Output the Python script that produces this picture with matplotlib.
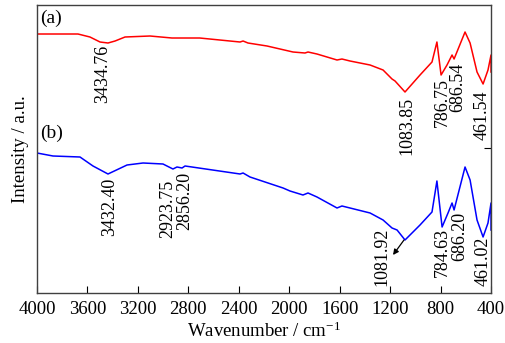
import numpy as np
import matplotlib.pyplot as plt

plt.rcParams.update({
    "font.family": "serif",
    "font.serif": ["Liberation Serif", "DejaVu Serif"],
    "font.size": 13,
    "mathtext.fontset": "custom",
    "mathtext.rm": "Liberation Serif",
    "mathtext.it": "Liberation Serif:italic",
    "axes.linewidth": 1.0,
})

# spectrum (a) - wavenumber / intensity (a.u.)
wn_a = [4000, 4000, 3675, 3580, 3500, 3437, 3381, 3302, 3104, 2930, 2922, 2710,
        2390, 2366, 2327, 2176, 1970, 1875, 1851, 1780, 1621, 1582, 1518, 1359,
        1256, 1185, 1161, 1082, 963, 868, 829, 796, 749, 709, 693, 606, 566,
        511, 463, 424, 400, 400]
int_a = [175, 259, 259, 256, 251, 250, 252, 256, 257, 255, 255, 255,
         251, 252, 250, 247, 241, 240, 241, 239, 233, 234, 232, 228,
         223, 214, 212, 201, 218, 231, 251, 218, 228, 238, 234, 261, 250,
         221, 209, 223, 238, 221]

# spectrum (b)
wn_b = [4000, 4000, 3873, 3659, 3556, 3437, 3286, 3159, 3001, 2922, 2890, 2850,
        2826, 2390, 2366, 2311, 2049, 1994, 1891, 1851, 1780, 1621, 1582, 1518,
        1359, 1256, 1185, 1145, 1082, 963, 868, 829, 788, 741, 709, 693, 606,
        566, 511, 463, 424, 400, 400]
int_b = [31, 140, 137, 136, 127, 119, 128, 130, 129, 124, 126, 125,
         127, 119, 120, 116, 105, 102, 98, 100, 96, 85, 87, 85,
         80, 73, 65, 63, 53, 68, 81, 112, 66, 80, 90, 83, 126,
         113, 73, 56, 70, 90, 63]

labels_a = ["3434.76", "1083.85", "786.75", "686.54", "461.54"]
labels_b = ["3432.40", "2923.75", "2856.20", "1081.92", "784.63", "686.20", "461.02"]
xticks = np.arange(4000, 399, -400)

fig = plt.figure(figsize=(5.06, 3.43), dpi=100)
ax = fig.add_axes([0.0731, 0.1458, 0.8973, 0.8396])

ax.plot(wn_a, int_a, color="#ff0000", lw=1.1)
ax.plot(wn_b, int_b, color="#0000ff", lw=1.1)

ax.set_xlim(4000, 400)
ax.set_ylim(0, 288)
ax.set_xticks(xticks)
ax.set_yticks([145])
ax.tick_params(axis="x", direction="in", length=5, pad=6, labelsize=13.5)
ax.tick_params(axis="y", direction="in", length=5, left=False, right=True,
               labelleft=False)
for s in ax.spines.values():
    s.set_color("#404040")

# peak labels
pos_a = [(3477, 248), (1066, 196), (788, 215), (661, 230), (471, 203)]
pos_b = [(3421, 115), (2961, 113), (2826, 121), (1264, 65), (788, 65), (646, 81), (463, 56)]
for lab, (x, y) in zip(labels_a, pos_a):
    ax.text(x, y, lab, rotation=90, ha="center", va="top", fontsize=13)
for lab, (x, y) in zip(labels_b, pos_b):
    ax.text(x, y, lab, rotation=90, ha="center", va="top", fontsize=13)

ax.annotate("", xy=(1177, 38), xytext=(1090, 53),
            arrowprops=dict(arrowstyle="-|>", color="black", lw=0.9,
                            mutation_scale=8, shrinkA=0, shrinkB=0))

ax.text(0.007, 0.985, "(a)", transform=ax.transAxes, ha="left", va="top", fontsize=14)
ax.text(0.007, 0.585, "(b)", transform=ax.transAxes, ha="left", va="top", fontsize=14)

ax.set_xlabel("Wavenumber / cm$^{-1}$", fontsize=13.5, labelpad=2)
ax.set_ylabel("Intensity / a.u.", fontsize=13.5, labelpad=6)

fig.savefig("out.png", dpi=100)
